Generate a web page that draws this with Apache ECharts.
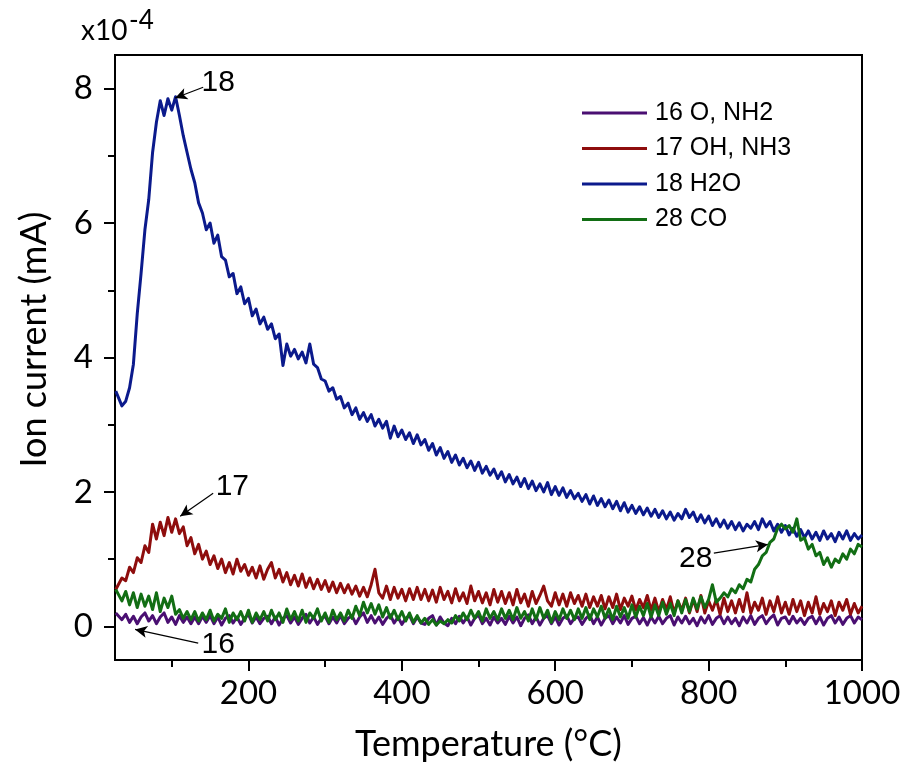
<!DOCTYPE html>
<html>
<head>
<meta charset="utf-8">
<script src="https://cdn.jsdelivr.net/npm/echarts@6/dist/echarts.min.js"></script>
<style>html,body{margin:0;padding:0;background:#fff;}#chart{width:907px;height:767px;}</style>
</head>
<body>
<div id="chart"></div>
<script>
// ---------- DATA ----------
const temps = [
  27,35,40,45,50,55,60,65,70,75,80,85,90,95,100,105,110,115,120,125,
  130,135,140,145,150,155,160,165,170,175,180,185,190,195,200,205,210,215,220,225,
  230,235,240,245,250,255,260,265,270,275,280,285,290,295,300,305,310,315,320,325,
  330,335,340,345,350,355,360,365,370,375,380,385,390,395,400,405,410,415,420,425,
  430,435,440,445,450,455,460,465,470,475,480,485,490,495,500,505,510,515,520,525,
  530,535,540,545,550,555,560,565,570,575,580,585,590,595,600,605,610,615,620,625,
  630,635,640,645,650,655,660,665,670,675,680,685,690,695,700,705,710,715,720,725,
  730,735,740,745,750,755,760,765,770,775,780,785,790,795,800,805,810,815,820,825,
  830,835,840,845,850,855,860,865,870,875,880,885,890,895,900,905,910,915,920,925,
  930,935,940,945,950,955,960,965,970,975,980,985,990,995,1000
];
const ion16_O_NH2 = [
  0.2,0.1,0.18,0.06,0.15,0.04,0.14,0.2,0.08,0.16,0.04,0.14,0.2,0.06,0.14,0.03,0.16,0.06,0.14,0.04,
  0.14,0.04,0.15,0.06,0.16,0.04,0.14,0.02,0.12,0.16,0.05,0.14,0.03,0.12,0.18,0.05,0.14,0.04,0.12,0.15,
  0.04,0.14,0.02,0.12,0.16,0.05,0.14,0.03,0.12,0.18,0.05,0.14,0.03,0.12,0.15,0.04,0.14,0.05,0.16,0.04,
  0.12,0.16,0.04,0.14,0.2,0.06,0.16,0.05,0.14,0.03,0.12,0.17,0.05,0.14,0.03,0.12,0.16,0.04,0.14,0.05,
  0.03,0.12,0.16,0.02,0.14,0.05,0.01,0.12,0.04,0.15,0.05,0.14,0.02,0.12,0.17,0.04,0.12,0.02,0.14,0.05,
  0.12,0.03,0.15,0.05,0.14,0.01,0.12,0.17,0.04,0.14,0.02,0.12,0.16,0.04,0.14,0.02,0.12,0.16,0.04,0.12,
  0.14,0.03,0.12,0.17,0.04,0.14,0.02,0.12,0.16,0.04,0.14,0.05,0.16,0.03,0.12,0.15,0.04,0.13,0.02,0.14,
  0.05,0.15,0.04,0.12,0.16,0.02,0.14,0.05,0.15,0.04,0.12,0.01,0.14,0.05,0.16,0.03,0.12,0.16,0.04,0.14,
  0.04,0.12,0.01,0.14,0.05,0.16,0.03,0.12,0.16,0.04,0.12,0.17,0.02,0.12,0.14,0.04,0.15,0.05,0.12,0.03,
  0.12,0.15,0.04,0.14,0.02,0.12,0.16,0.05,0.14,0.03,0.12,0.16,0.05,0.14,0.1
];
const ion17_OH_NH3 = [
  0.55,0.72,0.68,0.88,0.8,1.02,0.95,1.2,1.1,1.52,1.3,1.55,1.35,1.62,1.4,1.6,1.38,1.48,1.2,1.32,
  1.08,1.22,1.0,1.12,0.92,1.05,0.86,1.0,0.8,0.95,0.78,1.0,0.82,0.92,0.76,0.88,0.72,0.9,0.7,0.85,
  0.95,0.72,0.85,0.66,0.8,0.62,0.76,0.6,0.78,0.58,0.72,0.56,0.7,0.55,0.68,0.52,0.66,0.5,0.64,0.5,
  0.62,0.48,0.6,0.45,0.58,0.44,0.62,0.85,0.5,0.42,0.6,0.4,0.58,0.42,0.55,0.38,0.56,0.4,0.58,0.4,
  0.55,0.38,0.54,0.36,0.58,0.4,0.52,0.35,0.56,0.38,0.5,0.34,0.6,0.38,0.52,0.35,0.5,0.32,0.55,0.36,
  0.52,0.34,0.5,0.32,0.55,0.35,0.48,0.3,0.52,0.34,0.46,0.6,0.38,0.3,0.5,0.32,0.48,0.3,0.5,0.34,
  0.46,0.3,0.48,0.28,0.44,0.3,0.46,0.26,0.44,0.28,0.48,0.25,0.42,0.3,0.45,0.24,0.4,0.28,0.46,0.24,
  0.42,0.22,0.4,0.25,0.44,0.2,0.38,0.24,0.42,0.2,0.4,0.22,0.46,0.2,0.38,0.24,0.4,0.18,0.42,0.22,
  0.38,0.2,0.4,0.22,0.5,0.2,0.36,0.24,0.42,0.18,0.38,0.22,0.44,0.2,0.36,0.18,0.4,0.22,0.38,0.16,
  0.36,0.2,0.44,0.18,0.34,0.22,0.38,0.16,0.36,0.24,0.4,0.18,0.34,0.2,0.3
];
const ion18_H2O = [
  3.5,3.28,3.35,3.55,3.9,4.65,5.25,5.9,6.35,7.05,7.5,7.82,7.6,7.85,7.68,7.88,7.6,7.3,7.05,6.8,
  6.6,6.3,6.15,5.9,6.0,5.7,5.82,5.5,5.45,5.2,5.25,4.95,5.05,4.8,4.88,4.62,4.72,4.5,4.6,4.42,
  4.5,4.28,4.35,3.88,4.2,4.02,4.12,3.98,4.08,3.92,4.2,3.9,3.85,3.68,3.65,3.5,3.55,3.38,3.42,3.25,
  3.32,3.15,3.25,3.08,3.18,3.05,3.15,2.98,3.08,2.95,3.05,2.8,2.98,2.82,2.92,2.78,2.88,2.72,2.85,2.7,
  2.78,2.62,2.72,2.55,2.66,2.5,2.6,2.44,2.55,2.4,2.5,2.36,2.46,2.32,2.44,2.28,2.38,2.25,2.34,2.2,
  2.3,2.15,2.26,2.12,2.22,2.08,2.2,2.05,2.16,2.02,2.12,2.0,2.14,1.96,2.08,1.95,2.06,1.92,2.02,1.9,
  1.98,1.86,1.96,1.82,1.94,1.8,1.9,1.78,1.88,1.75,1.86,1.72,1.84,1.7,1.8,1.68,1.78,1.66,1.76,1.64,
  1.74,1.62,1.72,1.6,1.7,1.58,1.68,1.6,1.74,1.62,1.7,1.56,1.66,1.54,1.64,1.5,1.6,1.48,1.58,1.46,
  1.56,1.44,1.54,1.42,1.52,1.46,1.56,1.44,1.6,1.48,1.56,1.42,1.52,1.4,1.5,1.36,1.46,1.34,1.44,1.32,
  1.42,1.3,1.4,1.28,1.42,1.3,1.38,1.26,1.4,1.3,1.42,1.28,1.38,1.3,1.36
];
const ion28_CO = [
  0.55,0.38,0.52,0.32,0.5,0.28,0.48,0.3,0.45,0.25,0.5,0.22,0.42,0.28,0.45,0.18,0.25,0.12,0.22,0.1,
  0.22,0.08,0.2,0.1,0.24,0.08,0.18,0.12,0.26,0.06,0.2,0.1,0.22,0.08,0.24,0.06,0.2,0.1,0.22,0.08,
  0.24,0.1,0.2,0.06,0.26,0.1,0.22,0.08,0.24,0.06,0.2,0.12,0.26,0.08,0.2,0.06,0.24,0.1,0.2,0.08,
  0.24,0.12,0.3,0.16,0.36,0.2,0.34,0.18,0.32,0.14,0.28,0.12,0.24,0.1,0.22,0.08,0.2,0.06,0.16,0.05,
  0.12,0.03,0.1,0.02,0.08,0.04,0.1,0.05,0.16,0.08,0.2,0.1,0.24,0.12,0.22,0.08,0.26,0.12,0.22,0.1,
  0.26,0.12,0.24,0.1,0.28,0.12,0.22,0.08,0.26,0.1,0.28,0.12,0.24,0.06,0.22,0.1,0.26,0.12,0.24,0.1,
  0.26,0.12,0.28,0.1,0.26,0.14,0.3,0.12,0.26,0.1,0.3,0.14,0.28,0.12,0.32,0.14,0.3,0.16,0.34,0.14,
  0.32,0.16,0.36,0.18,0.34,0.16,0.38,0.2,0.4,0.22,0.42,0.26,0.44,0.28,0.4,0.62,0.36,0.42,0.5,0.44,
  0.56,0.5,0.62,0.56,0.7,0.66,0.85,0.92,1.05,1.1,1.25,1.3,1.46,1.52,1.45,1.5,1.4,1.6,1.28,1.32,
  1.15,1.22,1.05,1.1,0.92,1.02,0.88,1.0,0.95,1.08,1.0,1.15,1.08,1.22,1.18
];
const seriesNames = ['16 O, NH2', '17 OH, NH3', '18 H2O', '28 CO'];
const xMajorTicks = [200, 400, 600, 800, 1000];
const xMinorTicks = [100, 300, 500, 700, 900];
const yMajorTicks = [0, 2, 4, 6, 8];
const yMinorTicks = [1, 3, 5, 7];
// annotation labels: text, label anchor, arrow start, arrow tip (data coords)
const annotations = [
  { text: '18', at: [160.6, 8.08], from: [141, 8.02], to: [104.4, 7.86] },
  { text: '17', at: [179, 2.08], from: [154, 1.98], to: [111, 1.64] },
  { text: '16', at: [160.6, -0.27], from: [134.5, -0.25], to: [52.2, -0.045] },
  { text: '28', at: [783.3, 1.01], from: [806.8, 1.09], to: [877.3, 1.22] }
];

// ---------- CHART ----------
const colors = ['#4a0f72', '#8e0d0d', '#0b1a8c', '#126e14'];
const valueSets = [ion16_O_NH2, ion17_OH_NH3, ion18_H2O, ion28_CO];
const labelFont = 'Lato';
const annFont = "'Liberation Sans', Arial, sans-serif";

function pairs(vals) { return temps.map((t, i) => [t, vals[i]]); }

const chart = echarts.init(document.getElementById('chart'), null, { renderer: 'canvas' });

const series = valueSets.map((vals, i) => ({
  name: seriesNames[i],
  type: 'line',
  xAxisIndex: 0,
  yAxisIndex: 0,
  data: pairs(vals),
  showSymbol: false,
  symbol: 'none',
  lineStyle: { color: colors[i], width: 3, join: 'round' },
  itemStyle: { color: colors[i] },
  z: 2 + i
}));

series.push({
  type: 'line',
  xAxisIndex: 0,
  yAxisIndex: 0,
  data: [],
  silent: true,
  z: 10,
  markLine: {
    silent: true,
    symbol: ['none', 'arrow'],
    symbolSize: [9, 12],
    lineStyle: { color: '#000', width: 1.2, type: 'solid' },
    label: { show: false },
    data: annotations.map(a => [
      { coord: a.from, symbol: 'none' },
      { coord: a.to, symbol: 'arrow' }
    ])
  },
  markPoint: {
    silent: true,
    symbol: 'circle',
    symbolSize: 1,
    itemStyle: { color: 'rgba(0,0,0,0)' },
    label: { show: true, position: 'inside', color: '#000', fontSize: 30, fontFamily: annFont },
    data: annotations.map(a => ({ coord: a.at, value: a.text, label: { formatter: a.text } }))
  }
});

const axisLineStyle = { color: '#000', width: 2 };

chart.setOption({
  animation: false,
  backgroundColor: '#fff',
  grid: { left: 115, right: 45, top: 55, bottom: 107, show: true, borderColor: '#000', borderWidth: 2, backgroundColor: 'transparent' },
  legend: {
    data: seriesNames,
    orient: 'vertical',
    left: 582,
    top: 100,
    padding: 0,
    icon: 'rect',
    itemWidth: 65,
    itemHeight: 3,
    itemGap: 9.5,
    textStyle: { fontSize: 25, fontFamily: annFont, color: '#000', lineHeight: 26, padding: [0, 0, 0, 3] }
  },
  xAxis: [
    {
      type: 'value', min: 26, max: 1000, position: 'bottom',
      name: 'Temperature (°C)', nameLocation: 'middle', nameGap: 66,
      nameTextStyle: { fontSize: 36, fontFamily: labelFont, color: '#000' },
      axisLine: { show: true, onZero: false, lineStyle: axisLineStyle },
      axisTick: { show: true, inside: false, length: 11, lineStyle: { color: '#000', width: 2 }, customValues: xMajorTicks },
      axisLabel: { show: true, fontSize: 33, fontFamily: labelFont, color: '#000', margin: 17, customValues: xMajorTicks, formatter: v => String(v) },
      splitLine: { show: false }
    },
    {
      type: 'value', min: 26, max: 1000, position: 'bottom',
      axisLine: { show: false, onZero: false },
      axisTick: { show: true, inside: false, length: 7, lineStyle: { color: '#000', width: 2 }, customValues: xMinorTicks },
      axisLabel: { show: false },
      splitLine: { show: false }
    }
  ],
  yAxis: [
    {
      type: 'value', min: -0.5, max: 8.5, position: 'left',
      name: 'Ion current (mA)', nameLocation: 'middle', nameGap: 63,
      nameTextStyle: { fontSize: 36, fontFamily: labelFont, color: '#000', padding: [0, 0, 0, 36] },
      axisLine: { show: true, onZero: false, lineStyle: axisLineStyle },
      axisTick: { show: true, inside: false, length: 11, lineStyle: { color: '#000', width: 2 }, customValues: yMajorTicks },
      axisLabel: { show: true, fontSize: 33, fontFamily: labelFont, color: '#000', margin: 22, customValues: yMajorTicks, formatter: v => String(v) },
      splitLine: { show: false }
    },
    {
      type: 'value', min: -0.5, max: 8.5, position: 'left',
      axisLine: { show: false, onZero: false },
      axisTick: { show: true, inside: false, length: 7, lineStyle: { color: '#000', width: 2 }, customValues: yMinorTicks },
      axisLabel: { show: false },
      splitLine: { show: false }
    }
  ],
  graphic: [
    { type: 'text', left: 81, top: 17, style: { text: 'x10', font: '28px Lato', fill: '#000' } },
    { type: 'text', left: 129, top: 8, style: { text: '-4', font: '26px Lato', fill: '#000' } }
  ],
  series: series
});
</script>
</body>
</html>
